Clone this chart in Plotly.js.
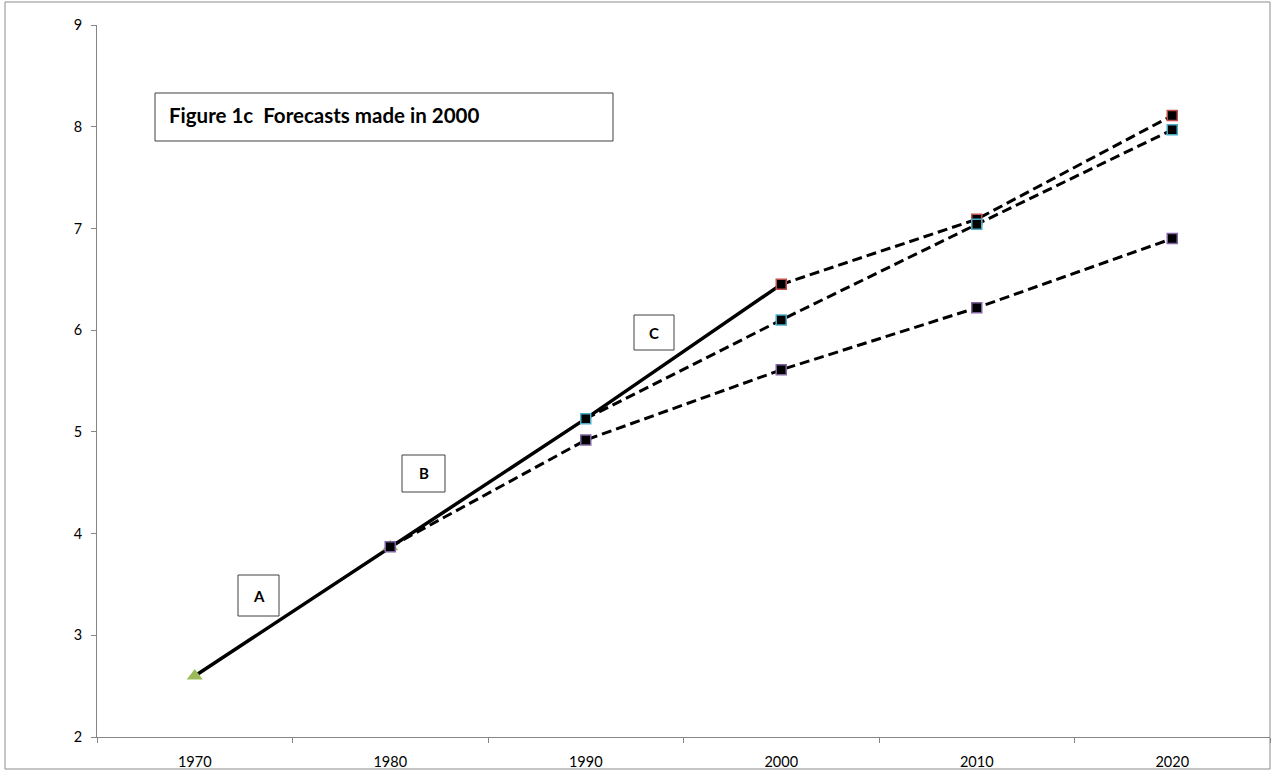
<!DOCTYPE html>
<html>
<head>
<meta charset="utf-8">
<script src="https://cdn.plot.ly/plotly-3.0.1.min.js"></script>
<style>html,body{margin:0;padding:0;background:#fff;}#chart{width:1271px;height:772px;}</style>
</head>
<body>
<div id="chart"></div>
<script>
// ---- data ----
const categories = ['1970','1980','1990','2000','2010','2020'];
const actualYears = ['1970','1980','1990','2000'];
const actualValues = [2.6, 3.87, 5.13, 6.45];
const seriesAYears = ['1970','1980'];
const seriesAValues = [2.6, 3.87];
const f1980Years = ['1980','1990','2000','2010','2020'];
const f1980Values = [3.87, 4.92, 5.61, 6.22, 6.90];
const f1990Years = ['1990','2000','2010','2020'];
const f1990Values = [5.13, 6.10, 7.04, 7.97];
const f2000Years = ['2000','2010','2020'];
const f2000Values = [6.45, 7.09, 8.11];
const yTicks = [2,3,4,5,6,7,8,9];
const titleText = 'Figure 1c  Forecasts made in 2000';
const labelA = 'A', labelB = 'B', labelC = 'C';

// ---- layout helpers (pixel -> paper) ----
const L = 97, R = 1270, T = 25, B = 737;
const px = x => (x - L) / (R - L);
const py = y => (B - y) / (B - T);

const FONT = 'Lato, "Open Sans", sans-serif';
const dashed = {color:'#000', width:3, dash:'10px,5px'};
const sq = c => ({symbol:'square', size:10, color:'#000', line:{color:c, width:1.5}});

const traces = [
  {x: actualYears, y: actualValues, mode:'lines', line:{color:'#000', width:3.5}},
  {x: f1980Years, y: f1980Values, mode:'lines', line: dashed},
  {x: f1990Years, y: f1990Values, mode:'lines', line: dashed},
  {x: f2000Years, y: f2000Values, mode:'lines', line: dashed},
  {x: seriesAYears, y: seriesAValues, mode:'markers', marker:{symbol:'triangle-up', size:14, color:'#9BBB59', line:{width:0}}},
  {x: f2000Years, y: f2000Values, mode:'markers', marker: sq('#C0504D')},
  {x: f1980Years, y: f1980Values, mode:'markers', marker: sq('#8064A2')},
  {x: f1990Years, y: f1990Values, mode:'markers', marker: sq('#4BACC6')}
];

function box(x0,y0,x1,y1,color){
  return {type:'rect', xref:'paper', yref:'paper', x0:px(x0), x1:px(x1), y0:py(y1), y1:py(y0),
          line:{color:color||'#404040', width:1}, fillcolor:'rgba(255,255,255,1)', layer:'above'};
}

const layout = {
  width:1271, height:772,
  margin:{l:L, r:1271-R, t:T, b:772-B},
  paper_bgcolor:'#fff', plot_bgcolor:'#fff',
  showlegend:false,
  font:{family:FONT, size:14, color:'#000'},
  xaxis:{type:'category', categoryorder:'array', categoryarray:categories,
         range:[-0.5, 5.5], tickson:'boundaries', ticks:'outside', ticklen:5, tickwidth:1,
         tickcolor:'#868686', showline:true, linecolor:'#868686', linewidth:1,
         showgrid:false, zeroline:false, ticklabelstandoff:12,
         tickfont:{family:FONT, size:14.5, color:'#000'}},
  yaxis:{range:[2,9], tickvals:yTicks, ticks:'outside', ticklen:5, tickwidth:1,
         tickcolor:'#868686', showline:true, linecolor:'#868686', linewidth:1,
         showgrid:false, zeroline:false, ticklabelstandoff:6,
         tickfont:{family:FONT, size:14.5, color:'#000'}},
  shapes:[
    {type:'rect', xref:'paper', yref:'paper', x0:px(5), x1:px(1270), y0:py(769), y1:py(2),
     line:{color:'#8c8c8c', width:1}, layer:'below'},
    box(155,93,613,141),
    box(238,575,279,616),
    box(402,455,445,492),
    box(634,315,674,350)
  ],
  annotations:[
    {xref:'paper', yref:'paper', x:px(167), y:py(115), xanchor:'left', yanchor:'middle',
     text:'<b>'+titleText+'</b>', showarrow:false, font:{family:FONT, size:20.5, color:'#000'}},
    {xref:'paper', yref:'paper', x:px(258.5), y:py(595.5), xanchor:'center', yanchor:'middle',
     text:'<b>'+labelA+'</b>', showarrow:false, font:{family:FONT, size:15, color:'#000'}},
    {xref:'paper', yref:'paper', x:px(423.5), y:py(473.5), xanchor:'center', yanchor:'middle',
     text:'<b>'+labelB+'</b>', showarrow:false, font:{family:FONT, size:15, color:'#000'}},
    {xref:'paper', yref:'paper', x:px(654), y:py(332.5), xanchor:'center', yanchor:'middle',
     text:'<b>'+labelC+'</b>', showarrow:false, font:{family:FONT, size:15, color:'#000'}}
  ]
};

Plotly.newPlot('chart', traces, layout, {staticPlot:true, displayModeBar:false});
</script>
</body>
</html>
